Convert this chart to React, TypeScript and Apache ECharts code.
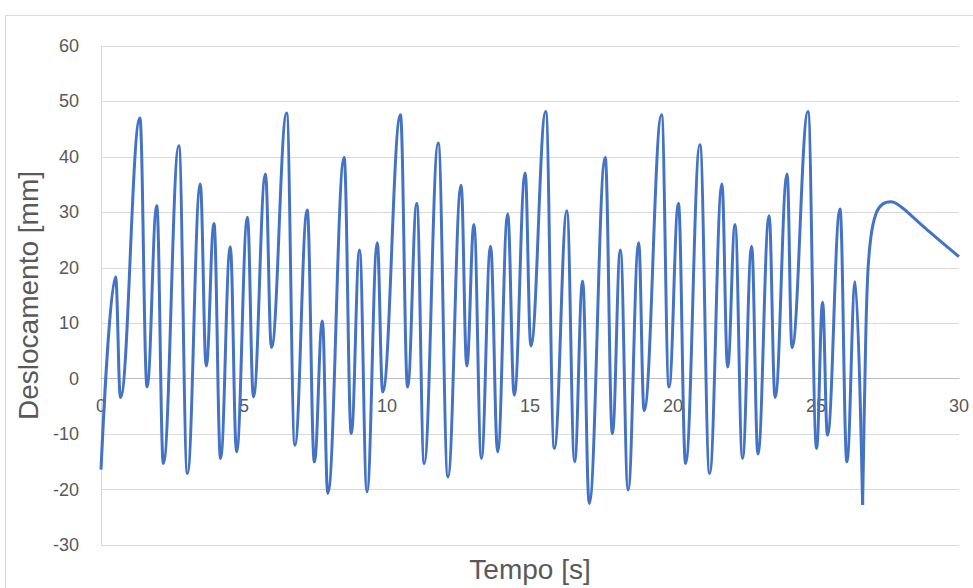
import { useEffect, useRef } from "react";
import * as echarts from "echarts";

// Oscillating part of the response: successive peaks and troughs (time in s, displacement in mm)
const timeOsc = [
  0, 0.51, 0.68, 1.36, 1.61, 1.95, 2.18, 2.72, 3.02, 3.47, 3.68, 3.95, 4.18, 4.52, 4.74,
  5.12, 5.33, 5.75, 5.96, 6.49, 6.78, 7.21, 7.46, 7.74, 7.93, 8.5, 8.75, 9.04, 9.3, 9.66,
  9.85, 10.47, 10.72, 11.04, 11.3, 11.79, 12.13, 12.59, 12.79, 13.04, 13.3, 13.62, 13.87,
  14.22, 14.45, 14.83, 15.03, 15.55, 15.85, 16.29, 16.56, 16.84, 17.07, 17.63, 17.88,
  18.16, 18.43, 18.8, 18.99, 19.6, 19.86, 20.19, 20.44, 20.94, 21.28, 21.71, 21.91, 22.17,
  22.43, 22.75, 22.97, 23.36, 23.57, 23.99, 24.16, 24.72, 25.02, 25.23, 25.4, 25.84, 26.08,
  26.37, 26.63,
];
const dispOsc = [
  -16.4, 18.4, -3.4, 47, -1.5, 31.2, -15.3, 42, -17.1, 35.1, 2.3, 28, -14.4, 23.8, -13.2,
  29.1, -3.3, 36.9, 5.6, 47.9, -12, 30.4, -15, 10.4, -20.7, 39.9, -9.9, 23.2, -20.4, 24.5,
  -2.4, 47.6, -1.5, 31.6, -15.3, 42.5, -17.7, 34.9, 2.3, 27.8, -14.4, 23.9, -13.2,
  29.7, -3, 37.1, 5.9, 48.2, -12.6, 30.3, -15, 17.6, -22.5, 39.9, -9.9,
  23.2, -20.1, 24.5, -5.8, 47.6, -1.5, 31.6, -15.3, 42.2, -17.1, 35.1, 2.1, 27.8,
  -14.4, 23.9, -13.6, 29.4, -3.4, 36.9, 5.6, 48.2, -12.6, 13.8, -10.2, 30.6, -15,
  17.5, -22.8,
];

// Free decay after the last trough
const timeTail = [26.63, 26.71, 26.8, 26.92, 27.1, 27.33, 27.62, 27.97, 28.44, 28.9, 29.37, 30];
const dispTail = [-22.8, -0.3, 17.8, 25.6, 29.8, 31.5, 31.9, 31, 28.9, 26.8, 24.7, 22];

const X_MIN = 0;
const X_MAX = 30;
const X_STEP = 5;
const Y_MIN = -30;
const Y_MAX = 60;
const Y_STEP = 10;

const LINE_COLOR = "#4472C4";
const TEXT_COLOR = "#595959";
const GRID_COLOR = "#d9d9d9";
const FONT = "'Liberation Sans', Arial, sans-serif";

const GRID_TOP = 46;
const GRID_BOTTOM = 43;
const CHART_H = 588;

export default function App() {
  const ref = useRef<HTMLDivElement>(null);

  useEffect(() => {
    if (!ref.current) return;
    const chart = echarts.init(ref.current, null, { renderer: "svg" });

    const osc = timeOsc.map((t, i) => [t, dispOsc[i]]);
    const tail = timeTail.map((t, i) => [t, dispTail[i]]);

    // The time axis crosses the displacement axis at zero: shift it up from the grid bottom.
    const plotH = CHART_H - GRID_TOP - GRID_BOTTOM;
    const zeroShift = (plotH * (0 - Y_MIN)) / (Y_MAX - Y_MIN);

    chart.setOption({
      animation: false,
      backgroundColor: "#ffffff",
      textStyle: { fontFamily: FONT },
      grid: {
        left: 101,
        right: 14,
        top: GRID_TOP,
        bottom: GRID_BOTTOM,
        containLabel: false,
        outerBoundsMode: "none",
      },
      graphic: [
        {
          type: "rect",
          shape: { x: 5.5, y: 15.5, width: 1000, height: 600 },
          style: { fill: "none", stroke: GRID_COLOR, lineWidth: 1 },
          silent: true,
          z: -10,
        },
        {
          type: "text",
          x: 530,
          y: 569,
          style: {
            text: "Tempo [s]",
            fontSize: 28,
            fill: TEXT_COLOR,
            fontFamily: FONT,
            align: "center",
            verticalAlign: "middle",
          },
          silent: true,
        },
      ],
      xAxis: {
        type: "value",
        min: X_MIN,
        max: X_MAX,
        interval: X_STEP,
        offset: -zeroShift,
        axisLine: { show: true, onZero: false, lineStyle: { color: "#bfbfbf", width: 1 } },
        axisTick: { show: false },
        splitLine: { show: false },
        axisLabel: { margin: 18, fontSize: 18, color: TEXT_COLOR, fontFamily: FONT },
      },
      yAxis: {
        type: "value",
        min: Y_MIN,
        max: Y_MAX,
        interval: Y_STEP,
        name: "Deslocamento [mm]",
        nameLocation: "middle",
        nameGap: 59,
        nameTextStyle: { fontSize: 28, color: TEXT_COLOR, fontFamily: FONT },
        axisLine: { show: true, onZero: false, lineStyle: { color: GRID_COLOR, width: 1 } },
        axisTick: { show: false },
        splitLine: { show: true, lineStyle: { color: GRID_COLOR, width: 1 } },
        axisLabel: { margin: 22, fontSize: 18, color: TEXT_COLOR, fontFamily: FONT },
      },
      series: [
        {
          type: "line",
          data: osc,
          smooth: 0.4,
          smoothMonotone: "x",
          showSymbol: false,
          lineStyle: { color: LINE_COLOR, width: 3 },
          itemStyle: { color: LINE_COLOR },
        },
        {
          type: "line",
          data: tail,
          smooth: 0.4,
          showSymbol: false,
          lineStyle: { color: LINE_COLOR, width: 3 },
          itemStyle: { color: LINE_COLOR },
        },
      ],
    });

    return () => chart.dispose();
  }, []);

  return (
    <div
      ref={ref}
      style={{ position: "fixed", left: 0, top: 0, width: 973, height: 588, background: "#ffffff" }}
    />
  );
}
